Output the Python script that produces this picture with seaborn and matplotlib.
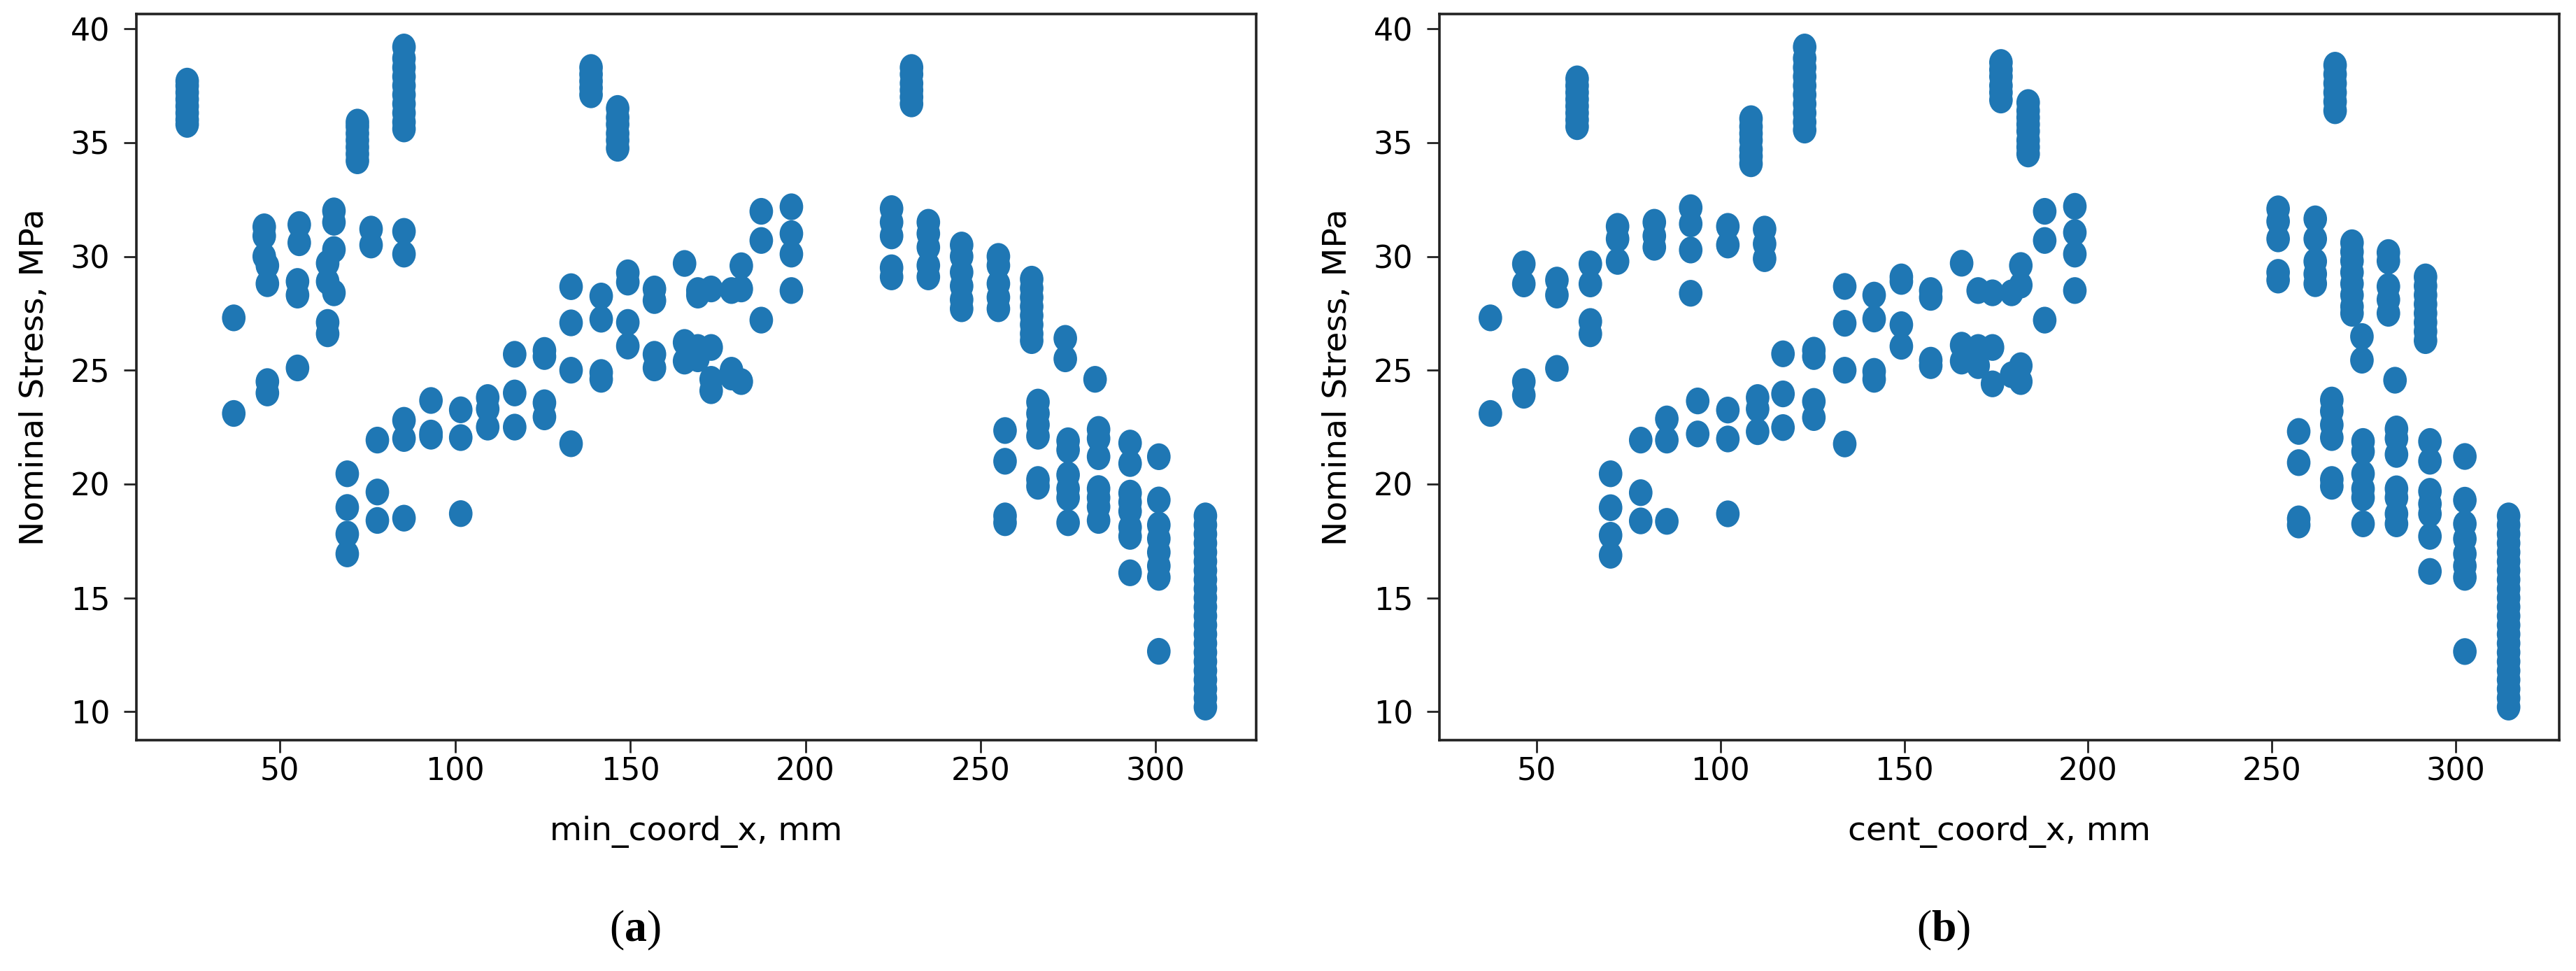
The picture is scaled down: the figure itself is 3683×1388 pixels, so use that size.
import numpy as np
import pandas as pd
import matplotlib
matplotlib.use("Agg")
import matplotlib.pyplot as plt
import seaborn as sns
from matplotlib.path import Path
from matplotlib.transforms import Affine2D

# (a) x of each column of points (min_coord_x) and the stresses found there
min_x = [23.5, 36.8, 45.5, 46.4, 55.5, 55.0, 65.4, 63.6, 72.1, 76.0, 85.4,
         69.2, 77.8, 93.1, 101.6, 109.3, 117.0, 125.5, 133.1, 138.8, 141.7,
         146.4, 149.3, 156.9, 165.5, 169.3, 173.1, 178.9, 181.7, 187.4, 196.0,
         224.6, 230.3, 235.1, 244.6, 255.1, 264.6, 274.2, 282.7, 257.0, 266.4,
         275.0, 283.7, 292.7, 300.9, 314.2]
min_stress = [
    [35.8, 36.0, 36.3, 36.6, 36.9, 37.2, 37.5, 37.7],
    [27.3, 23.1],
    [31.3, 30.9, 30.0],
    [29.6, 28.8, 24.5, 24.0],
    [31.4, 30.6],
    [28.9, 28.3, 25.1],
    [32.0, 31.5, 30.3, 28.4],
    [29.7, 28.9, 27.1, 26.6],
    [34.2, 34.5, 34.8, 35.1, 35.4, 35.7, 35.9],
    [31.2, 30.5],
    [35.6, 35.9, 36.3, 36.7, 37.1, 37.5, 37.9, 38.3, 38.7, 39.2, 31.1, 30.1,
     22.8, 22.0, 18.5],
    [20.45, 18.97, 17.8, 16.93],
    [21.93, 19.65, 18.4],
    [23.67, 22.24, 22.1],
    [23.26, 22.04, 18.7],
    [23.8, 23.3, 22.5],
    [25.7, 24.0, 22.5],
    [25.87, 25.6, 23.57, 22.95],
    [28.67, 27.08, 25.0, 21.77],
    [37.1, 37.4, 37.7, 38.0, 38.3],
    [28.26, 27.24, 24.9, 24.6],
    [34.75, 35.1, 35.4, 35.8, 36.1, 36.5],
    [29.28, 28.87, 27.1, 26.06],
    [28.57, 28.06, 25.7, 25.1],
    [29.69, 26.22, 25.4],
    [28.5, 28.3, 26.0, 25.5],
    [28.57, 26.0, 24.6, 24.1],
    [28.5, 25.0, 24.7],
    [29.59, 28.57, 24.5],
    [31.98, 30.7, 27.2],
    [32.18, 31.0, 30.1, 28.5],
    [32.1, 31.5, 30.9, 29.5, 29.1],
    [36.7, 37.0, 37.3, 37.6, 38.0, 38.3],
    [31.5, 31.0, 30.4, 29.6, 29.1],
    [30.5, 30.0, 29.3, 28.7, 28.1, 27.7],
    [30.0, 29.6, 28.8, 28.2, 27.7],
    [29.0, 28.6, 28.2, 27.8, 27.4, 27.0, 26.6, 26.3],
    [26.4, 25.5],
    [24.6],
    [22.35, 21.0, 18.6, 18.3],
    [23.6, 23.1, 22.6, 22.1, 20.2, 19.9],
    [21.9, 21.5, 20.4, 19.8, 19.4, 18.3],
    [22.4, 22.0, 21.2, 19.8, 19.4, 19.0, 18.4],
    [21.8, 20.9, 19.6, 19.2, 18.8, 18.1, 17.7, 16.1],
    [21.2, 19.3, 18.2, 17.6, 17.0, 16.4, 15.9, 12.65],
    [10.2, 10.6, 11.0, 11.4, 11.8, 12.2, 12.6, 13.0, 13.4, 13.8, 14.2, 14.6,
     15.0, 15.4, 15.8, 16.2, 16.6, 17.0, 17.4, 17.8, 18.2, 18.6],
]

# (b) same idea against cent_coord_x
cent_x = [37.4, 46.5, 55.5, 61.0, 64.6, 70.1, 72.0, 78.3, 82.0, 85.4, 91.9,
          93.8, 102.0, 108.3, 110.1, 112.0, 117.0, 122.9, 125.4, 133.8, 141.8,
          149.2, 157.2, 165.6, 170.1, 174.0, 176.3, 179.2, 181.7, 183.7, 188.2,
          196.4, 251.7, 257.3, 261.8, 266.3, 267.2, 271.8, 274.5, 274.8, 281.7,
          283.5, 283.9, 291.8, 293.0, 302.5, 314.4]
cent_stress = [
    [27.3, 23.1],
    [29.67, 28.79, 24.5, 23.9],
    [28.96, 28.3, 25.08],
    [35.7, 36.0, 36.3, 36.6, 36.9, 37.2, 37.5, 37.8],
    [29.67, 28.79, 27.14, 26.6],
    [20.45, 18.96, 17.75, 16.87],
    [31.32, 30.77, 29.78],
    [21.93, 19.62, 18.38],
    [31.5, 30.9, 30.4],
    [22.86, 21.93, 18.36],
    [32.14, 31.43, 30.28, 28.38],
    [23.65, 22.2],
    [31.32, 30.5, 23.25, 21.98, 18.69],
    [34.07, 34.4, 34.7, 35.1, 35.4, 35.7, 36.05],
    [23.8, 23.3, 22.3],
    [31.2, 30.55, 29.9],
    [25.72, 23.96, 22.48],
    [35.55, 35.9, 36.3, 36.7, 37.1, 37.5, 37.9, 38.3, 38.7, 39.2],
    [25.88, 25.6, 23.63, 22.92],
    [28.68, 27.06, 25.0, 21.76],
    [28.3, 27.25, 24.95, 24.6],
    [29.1, 28.9, 27.0, 26.05],
    [28.5, 28.2, 25.44, 25.2],
    [29.7, 26.1, 25.4],
    [28.5, 26.0, 25.2],
    [28.4, 26.0, 24.4],
    [36.87, 37.2, 37.5, 37.9, 38.2, 38.52],
    [28.4, 24.8],
    [29.6, 28.74, 25.2, 24.5],
    [34.5, 34.8, 35.1, 35.5, 35.8, 36.1, 36.4, 36.76],
    [31.98, 30.7, 27.2],
    [32.2, 31.05, 30.1, 28.5],
    [32.09, 31.54, 30.77, 29.3, 28.96],
    [22.31, 20.94, 18.47, 18.2],
    [31.65, 30.77, 29.78, 29.23, 28.8],
    [23.69, 23.2, 22.6, 22.04, 20.2, 19.9],
    [36.4, 36.8, 37.2, 37.6, 38.0, 38.4],
    [30.6, 30.2, 29.8, 29.3, 28.8, 28.3, 27.8, 27.5],
    [26.48, 25.44],
    [21.87, 21.43, 20.45, 19.79, 19.4, 18.25],
    [30.17, 29.8, 28.68, 28.1, 27.5],
    [24.56],
    [22.42, 22.0, 21.3, 19.79, 19.4, 18.69, 18.25],
    [29.1, 28.7, 28.3, 27.9, 27.5, 27.1, 26.7, 26.3],
    [21.87, 21.0, 19.68, 19.13, 18.69, 17.7, 16.16],
    [21.21, 19.29, 18.25, 17.59, 16.93, 16.4, 15.9, 12.64],
    [10.2, 10.6, 11.0, 11.4, 11.8, 12.2, 12.6, 13.0, 13.4, 13.8, 14.2, 14.6,
     15.0, 15.4, 15.8, 16.2, 16.6, 17.0, 17.4, 17.8, 18.2, 18.6],
]

panel_tags = ["a", "b"]
x_titles = ["min_coord_x, mm", "cent_coord_x, mm"]
y_title = "Nominal Stress, MPa"


def to_frame(xs, groups):
    rows = [(x, y) for x, ys in zip(xs, groups) for y in ys]
    return pd.DataFrame(rows, columns=["x", "stress"])


frames = [to_frame(min_x, min_stress), to_frame(cent_x, cent_stress)]

# serif bold letter inside the "(a)" caption via mathtext
plt.rcParams["mathtext.fontset"] = "custom"
plt.rcParams["mathtext.rm"] = "Liberation Serif"
plt.rcParams["mathtext.bf"] = "Liberation Serif:bold"

# the picture is a bit stretched upward, so the dots are slightly tall ellipses
dot = Path.unit_circle().transformed(Affine2D().scale(0.88, 1.0))

fig = plt.figure(figsize=(36.83, 13.88), dpi=100)
lefts = [0.0529, 0.5588]
tag_x = [0.2465, 0.7545]
for i, df in enumerate(frames):
    ax = fig.add_axes([lefts[i], 0.2378, 0.4348, 0.7478])
    sns.scatterplot(data=df, x="x", y="stress", ax=ax, marker=dot, s=760,
                    color="#1f77b4", edgecolor="none", linewidth=0, alpha=1)
    ax.set_yticks([10, 15, 20, 25, 30, 35, 40])
    ax.set_xticks([50, 100, 150, 200, 250, 300])
    ax.set_xlabel(x_titles[i], fontsize=34, labelpad=30)
    ax.set_ylabel(y_title, fontsize=34, labelpad=21)
    ax.tick_params(axis="both", labelsize=32, length=13, width=2,
                   color="#222222")
    ax.tick_params(axis="y", pad=14)
    ax.tick_params(axis="x", pad=4)
    for sp in ax.spines.values():
        sp.set_linewidth(2.6)
        sp.set_color("#222222")
    fig.text(tag_x[i], 0.042, "($\\mathbf{%s}$)" % panel_tags[i], fontsize=46,
             family="Liberation Serif", ha="center", va="center")

fig.savefig("out.png", dpi=100, facecolor="white")
